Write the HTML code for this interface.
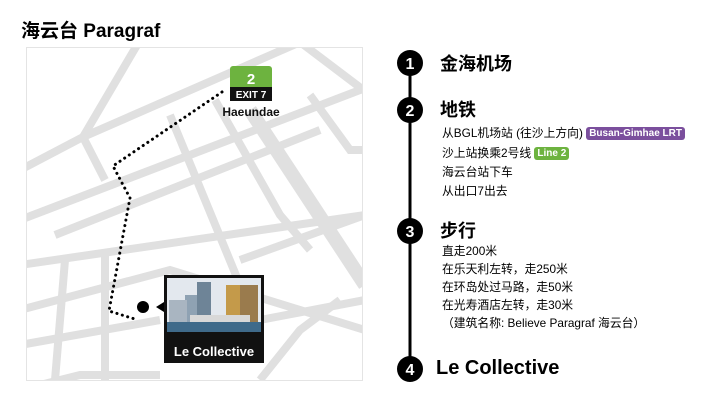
<!DOCTYPE html>
<html><head><meta charset="utf-8"><style>
body{margin:0;width:728px;height:402px;background:#fff;overflow:hidden;position:relative;font-family:"Liberation Sans","Noto Sans CJK SC",sans-serif;color:#000}
.t{position:absolute;white-space:nowrap}
.tag{display:inline-block;color:#fff;font-size:10px;font-weight:bold;padding:0 3px;border-radius:3px;line-height:13px;vertical-align:1px}
.l{font-size:11.8px;line-height:18px}
</style></head><body>
<div class="t" style="left:21px;top:16px;font-size:19px;font-weight:bold">海云台 Paragraf</div>
<svg style="position:absolute;left:0;top:0" width="728" height="402">
<defs><clipPath id="c"><rect x="27" y="47" width="336" height="333"/></clipPath></defs>
<g clip-path="url(#c)" stroke="#e0e0e0" fill="none" stroke-linecap="butt">
<g stroke-width="8">
<path d="M140 40 L83 137 L305 40"/>
<path d="M83 137 L20 170"/>
<path d="M83 137 L105 180"/>
<path d="M300 42 L370 95"/>
<path d="M20 220 L360 90"/>
<path d="M55 235 L320 130"/>
<path d="M20 265 L365 215"/>
<path d="M20 310 L170 270 L365 330"/>
<path d="M20 345 L160 320"/>
<path d="M260 320 L365 300"/>
<path d="M170 115 L240 285 L260 330"/>
<path d="M215 100 L280 215 L310 250"/>
<path d="M310 95 L350 150 L365 150"/>
<path d="M240 260 L365 215"/>
<path d="M65 260 L55 380"/>
<path d="M105 250 L105 380"/>
<path d="M20 390 L80 375 L160 375"/>
</g>
<path d="M250 110 L365 285" stroke-width="14"/>
<path d="M260 380 L300 330 L340 300" stroke-width="8"/>
</g>
<rect x="26.5" y="47.5" width="336" height="333" fill="none" stroke="#e4e4e4"/>
<path d="M222 92 L113 166 L130 198 L109 311 L138 320" stroke="#000" stroke-width="3" fill="none" stroke-dasharray="0.1 5.5" stroke-linecap="round"/>
<circle cx="143" cy="307" r="6" fill="#000"/>
<path d="M156 307 L164 302 L164 312Z" fill="#000"/>
<rect x="230" y="66" width="42" height="35" rx="3" fill="#6db33f"/>
<rect x="230" y="87" width="42" height="14" fill="#111"/>
<rect x="230" y="96" width="42" height="5" rx="2" fill="#111"/>
<text x="251" y="84" text-anchor="middle" font-size="15" font-weight="bold" fill="#fff" font-family="Liberation Sans">2</text>
<text x="251" y="98" text-anchor="middle" font-size="10" font-weight="bold" fill="#fff" font-family="Liberation Sans">EXIT 7</text>
<text x="251" y="116" text-anchor="middle" font-size="12" font-weight="bold" fill="#111" font-family="Liberation Sans">Haeundae</text>
<rect x="164" y="275" width="100" height="88" fill="#111"/>
<rect x="167" y="278" width="94" height="54" fill="#e3e8ee"/>
<rect x="185" y="295" width="20" height="37" fill="#8fa2b3"/>
<rect x="197" y="282" width="14" height="50" fill="#6e8497"/>
<rect x="226" y="285" width="32" height="47" fill="#c49a4a"/>
<rect x="240" y="285" width="18" height="47" fill="#9a7b4d"/>
<rect x="169" y="300" width="18" height="32" fill="#a9b5c1"/>
<rect x="190" y="315" width="60" height="7" fill="#d8d8d8"/>
<rect x="167" y="322" width="94" height="10" fill="#3f6a8a"/>
<text x="214" y="356" text-anchor="middle" font-size="13" font-weight="bold" fill="#fff" font-family="Liberation Sans">Le Collective</text>
<line x1="410" y1="63" x2="410" y2="369" stroke="#000" stroke-width="3"/>
<g font-family="Liberation Sans" font-weight="bold" font-size="16" fill="#fff" text-anchor="middle">
<circle cx="410" cy="63" r="13" fill="#000"/><text x="410" y="69">1</text>
<circle cx="410" cy="110" r="13" fill="#000"/><text x="410" y="116">2</text>
<circle cx="410" cy="231" r="13" fill="#000"/><text x="410" y="237">3</text>
<circle cx="410" cy="369" r="13" fill="#000"/><text x="410" y="375">4</text>
</g>
</svg>
<div class="t" style="left:440px;top:50px;font-size:18px;font-weight:bold">金海机场</div>
<div class="t" style="left:440px;top:96px;font-size:18px;font-weight:bold">地铁</div>
<div class="t l" style="left:442px;top:124px">从BGL机场站 (往沙上方向) <span class="tag" style="background:#7b4f9d">Busan-Gimhae LRT</span></div>
<div class="t l" style="left:442px;top:144px">沙上站换乘2号线 <span class="tag" style="background:#6db33f">Line 2</span></div>
<div class="t l" style="left:442px;top:163px">海云台站下车</div>
<div class="t l" style="left:442px;top:182px">从出口7出去</div>
<div class="t" style="left:440px;top:217px;font-size:18px;font-weight:bold">步行</div>
<div class="t l" style="left:442px;top:242px">直走200米</div>
<div class="t l" style="left:442px;top:260px">在乐天利左转，走250米</div>
<div class="t l" style="left:442px;top:278px">在环岛处过马路，走50米</div>
<div class="t l" style="left:442px;top:296px">在光寿酒店左转，走30米</div>
<div class="t l" style="left:442px;top:314px">（建筑名称: Believe Paragraf 海云台）</div>
<div class="t" style="left:436px;top:357px;font-size:20px;font-weight:bold">Le Collective</div>
</body></html>
